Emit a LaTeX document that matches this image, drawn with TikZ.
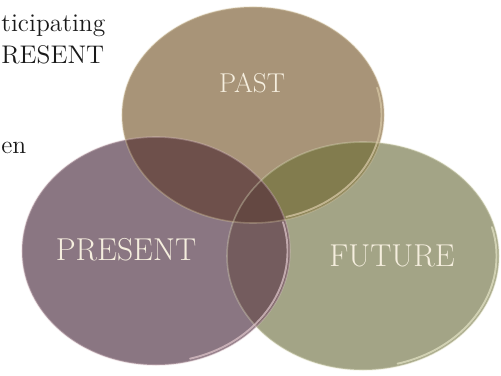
\documentclass[tikz,border=0pt]{standalone}
\usepackage{tikz}

\definecolor{pastfill}{RGB}{168,148,120}
\definecolor{presentfill}{RGB}{138,118,130}
\definecolor{futurefill}{RGB}{163,164,134}
\definecolor{pastpresent}{RGB}{110,80,75}
\definecolor{pastfuture}{RGB}{130,124,78}
\definecolor{presentfuture}{RGB}{116,92,94}
\definecolor{allthree}{RGB}{100,72,66}
\definecolor{pastrim}{RGB}{215,200,165}
\definecolor{presentrim}{RGB}{220,195,200}
\definecolor{futurerim}{RGB}{225,225,195}
\definecolor{labelcream}{RGB}{245,238,222}
\definecolor{sideink}{RGB}{25,25,25}

\begin{document}
\begin{tikzpicture}[
  venntext/.style={text=labelcream, font=\fontsize{18}{21}\selectfont},
  sidetext/.style={anchor=base west, inner sep=0pt, text=sideink, font=\fontsize{14.5}{17}\selectfont},
  rimline/.style={line width=0.9pt, draw opacity=0.35},
  gloss/.style={line width=1.1pt, draw opacity=0.75, line cap=round}
]
\useasboundingbox (0,0) rectangle (10.02,7.5);
\clip (0,0) rectangle (10.02,7.5);

% text at the left
\node[sidetext] (line1) at (0.02,6.86) {ticipating};
\node[sidetext] (line2) at (0.02,6.22) {RESENT};
\node[sidetext] (line3) at (0.02,4.44) {en};

% the three discs
\fill[futurefill] (7.26,2.38) ellipse (2.72 and 2.28);
\fill[presentfill] (3.12,2.48) ellipse (2.68 and 2.28);
\fill[pastfill] (5.06,5.20) ellipse (2.62 and 2.16);

% overlaps
\begin{scope}
  \clip (5.06,5.20) ellipse (2.62 and 2.16);
  \fill[pastpresent] (3.12,2.48) ellipse (2.68 and 2.28);
  \fill[pastfuture] (7.26,2.38) ellipse (2.72 and 2.28);
\end{scope}
\begin{scope}
  \clip (3.12,2.48) ellipse (2.68 and 2.28);
  \fill[presentfuture] (7.26,2.38) ellipse (2.72 and 2.28);
  \clip (5.06,5.20) ellipse (2.62 and 2.16);
  \fill[allthree] (7.26,2.38) ellipse (2.72 and 2.28);
\end{scope}

% rims
\draw[rimline, futurerim] (7.26,2.38) ellipse (2.72 and 2.28);
\draw[rimline, presentrim] (3.12,2.48) ellipse (2.68 and 2.28);
\draw[rimline, pastrim] (5.06,5.20) ellipse (2.62 and 2.16);
\draw[gloss, futurerim] ([shift={(-75:2.67 and 2.23)}]7.26,2.38) arc[start angle=-75, end angle=15, x radius=2.67, y radius=2.23];
\draw[gloss, presentrim] ([shift={(-75:2.63 and 2.23)}]3.12,2.48) arc[start angle=-75, end angle=15, x radius=2.63, y radius=2.23];
\draw[gloss, pastrim] ([shift={(-75:2.57 and 2.11)}]5.06,5.20) arc[start angle=-75, end angle=15, x radius=2.57, y radius=2.11];

% labels
\node[venntext, font=\fontsize{15.5}{18}\selectfont] (past) at (5.04,5.84) {PAST};
\node[venntext] (present) at (2.52,2.50) {PRESENT};
\node[venntext] (future) at (7.84,2.38) {FUTURE};

\end{tikzpicture}
\end{document}
